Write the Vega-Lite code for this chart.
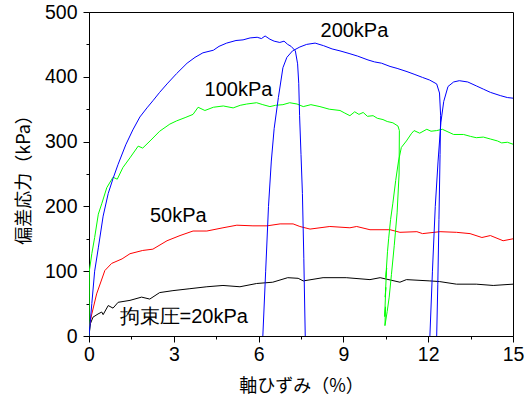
{
  "$schema": "https://vega.github.io/schema/vega-lite/v6.json",
  "width": 424,
  "height": 324,
  "autosize": {"type": "none"},
  "padding": {"left": 89, "top": 12, "right": 19, "bottom": 64},
  "background": "white",
  "config": {
    "view": {"stroke": "black", "strokeWidth": 1},
    "axis": {"grid": false, "domainColor": "black", "tickColor": "black", "labelColor": "black", "titleColor": "black", "labelFont": "Liberation Sans", "labelFontSize": 19.5, "titleFont": "Noto Sans CJK JP", "titleFontSize": 18, "titleFontWeight": "normal", "labelOverlap": false, "labelFlush": false}
  },
  "datasets": {
    "curves": [
      {"s":"20kPa","g":"a","x":0,"y":0},{"s":"20kPa","g":"a","x":0.05,"y":19},{"s":"20kPa","g":"a","x":0.14,"y":29},{"s":"20kPa","g":"a","x":0.32,"y":34},{"s":"20kPa","g":"a","x":0.45,"y":37},{"s":"20kPa","g":"a","x":0.5,"y":33},{"s":"20kPa","g":"a","x":0.68,"y":47},{"s":"20kPa","g":"a","x":0.85,"y":43},{"s":"20kPa","g":"a","x":1.03,"y":52},{"s":"20kPa","g":"a","x":1.45,"y":55},{"s":"20kPa","g":"a","x":1.86,"y":60},{"s":"20kPa","g":"a","x":2.15,"y":57},{"s":"20kPa","g":"a","x":2.5,"y":67},{"s":"20kPa","g":"a","x":2.97,"y":70},{"s":"20kPa","g":"a","x":3.57,"y":73},{"s":"20kPa","g":"a","x":4.17,"y":76},{"s":"20kPa","g":"a","x":4.74,"y":78},{"s":"20kPa","g":"a","x":5.34,"y":76},{"s":"20kPa","g":"a","x":5.93,"y":81},{"s":"20kPa","g":"a","x":6.5,"y":83},{"s":"20kPa","g":"a","x":7.03,"y":90},{"s":"20kPa","g":"a","x":7.4,"y":89},{"s":"20kPa","g":"a","x":7.58,"y":85},{"s":"20kPa","g":"a","x":8.28,"y":90},{"s":"20kPa","g":"a","x":9.1,"y":90},{"s":"20kPa","g":"a","x":9.94,"y":87},{"s":"20kPa","g":"a","x":10.3,"y":90},{"s":"20kPa","g":"a","x":11.0,"y":83},{"s":"20kPa","g":"a","x":11.23,"y":87},{"s":"20kPa","g":"a","x":12.06,"y":85},{"s":"20kPa","g":"a","x":12.4,"y":84},{"s":"20kPa","g":"a","x":13.0,"y":80},{"s":"20kPa","g":"a","x":13.7,"y":80},{"s":"20kPa","g":"a","x":14.3,"y":78},{"s":"20kPa","g":"a","x":15.0,"y":80},

      {"s":"50kPa","g":"a","x":0,"y":13},{"s":"50kPa","g":"a","x":0.1,"y":34},{"s":"50kPa","g":"a","x":0.27,"y":65},{"s":"50kPa","g":"a","x":0.56,"y":101},{"s":"50kPa","g":"a","x":0.8,"y":112},{"s":"50kPa","g":"a","x":1.17,"y":119},{"s":"50kPa","g":"a","x":1.45,"y":127},{"s":"50kPa","g":"a","x":1.9,"y":132},{"s":"50kPa","g":"a","x":2.26,"y":134},{"s":"50kPa","g":"a","x":2.76,"y":147},{"s":"50kPa","g":"a","x":3.22,"y":155},{"s":"50kPa","g":"a","x":3.68,"y":162},{"s":"50kPa","g":"a","x":4.17,"y":162},{"s":"50kPa","g":"a","x":4.74,"y":167},{"s":"50kPa","g":"a","x":5.23,"y":171},{"s":"50kPa","g":"a","x":5.8,"y":170},{"s":"50kPa","g":"a","x":6.3,"y":170},{"s":"50kPa","g":"a","x":6.76,"y":173},{"s":"50kPa","g":"a","x":7.22,"y":173},{"s":"50kPa","g":"a","x":7.46,"y":169},{"s":"50kPa","g":"a","x":7.82,"y":165},{"s":"50kPa","g":"a","x":8.52,"y":169},{"s":"50kPa","g":"a","x":9.23,"y":167},{"s":"50kPa","g":"a","x":9.47,"y":169},{"s":"50kPa","g":"a","x":9.94,"y":164},{"s":"50kPa","g":"a","x":10.65,"y":164},{"s":"50kPa","g":"a","x":11.0,"y":160},{"s":"50kPa","g":"a","x":11.6,"y":161},{"s":"50kPa","g":"a","x":11.8,"y":158},{"s":"50kPa","g":"a","x":12.42,"y":161},{"s":"50kPa","g":"a","x":13.0,"y":160},{"s":"50kPa","g":"a","x":13.48,"y":158},{"s":"50kPa","g":"a","x":13.9,"y":152},{"s":"50kPa","g":"a","x":14.2,"y":155},{"s":"50kPa","g":"a","x":14.65,"y":147},{"s":"50kPa","g":"a","x":15.0,"y":150},

      {"s":"100kPa","g":"a","x":0,"y":0},{"s":"100kPa","g":"a","x":0.01,"y":100},{"s":"100kPa","g":"a","x":0.1,"y":127},{"s":"100kPa","g":"a","x":0.2,"y":152},{"s":"100kPa","g":"a","x":0.33,"y":188},{"s":"100kPa","g":"a","x":0.45,"y":204},{"s":"100kPa","g":"a","x":0.63,"y":229},{"s":"100kPa","g":"a","x":0.85,"y":245},{"s":"100kPa","g":"a","x":1.0,"y":242},{"s":"100kPa","g":"a","x":1.2,"y":260},{"s":"100kPa","g":"a","x":1.45,"y":275},{"s":"100kPa","g":"a","x":1.74,"y":293},{"s":"100kPa","g":"a","x":1.9,"y":290},{"s":"100kPa","g":"a","x":2.16,"y":301},{"s":"100kPa","g":"a","x":2.5,"y":316},{"s":"100kPa","g":"a","x":2.86,"y":327},{"s":"100kPa","g":"a","x":3.1,"y":332},{"s":"100kPa","g":"a","x":3.4,"y":337},{"s":"100kPa","g":"a","x":3.68,"y":342},{"s":"100kPa","g":"a","x":3.86,"y":353},{"s":"100kPa","g":"a","x":4.1,"y":348},{"s":"100kPa","g":"a","x":4.4,"y":353},{"s":"100kPa","g":"a","x":4.75,"y":355},{"s":"100kPa","g":"a","x":5.1,"y":352},{"s":"100kPa","g":"a","x":5.35,"y":356},{"s":"100kPa","g":"a","x":5.58,"y":358},{"s":"100kPa","g":"a","x":5.93,"y":360},{"s":"100kPa","g":"a","x":6.15,"y":357},{"s":"100kPa","g":"a","x":6.4,"y":354},{"s":"100kPa","g":"a","x":6.6,"y":356},{"s":"100kPa","g":"a","x":6.86,"y":357},{"s":"100kPa","g":"a","x":7.1,"y":360},{"s":"100kPa","g":"a","x":7.36,"y":358},{"s":"100kPa","g":"a","x":7.58,"y":354},{"s":"100kPa","g":"a","x":7.85,"y":357},{"s":"100kPa","g":"a","x":8.17,"y":354},{"s":"100kPa","g":"a","x":8.5,"y":350},{"s":"100kPa","g":"a","x":8.88,"y":348},{"s":"100kPa","g":"a","x":9.05,"y":344},{"s":"100kPa","g":"a","x":9.23,"y":340},{"s":"100kPa","g":"a","x":9.4,"y":346},{"s":"100kPa","g":"a","x":9.55,"y":342},{"s":"100kPa","g":"a","x":9.7,"y":345},{"s":"100kPa","g":"a","x":9.85,"y":339},{"s":"100kPa","g":"a","x":10.05,"y":340},{"s":"100kPa","g":"a","x":10.2,"y":336},{"s":"100kPa","g":"a","x":10.4,"y":334},{"s":"100kPa","g":"a","x":10.55,"y":331},{"s":"100kPa","g":"a","x":10.75,"y":329},{"s":"100kPa","g":"a","x":10.93,"y":324},{"s":"100kPa","g":"a","x":10.98,"y":317},{"s":"100kPa","g":"a","x":10.97,"y":250},{"s":"100kPa","g":"a","x":10.9,"y":190},{"s":"100kPa","g":"a","x":10.8,"y":140},{"s":"100kPa","g":"a","x":10.7,"y":95},{"s":"100kPa","g":"a","x":10.62,"y":60},{"s":"100kPa","g":"a","x":10.55,"y":38},{"s":"100kPa","g":"a","x":10.47,"y":16},{"s":"100kPa","g":"a","x":10.49,"y":45},{"s":"100kPa","g":"a","x":10.46,"y":30},{"s":"100kPa","g":"a","x":10.5,"y":75},{"s":"100kPa","g":"a","x":10.48,"y":60},{"s":"100kPa","g":"a","x":10.53,"y":105},{"s":"100kPa","g":"a","x":10.5,"y":90},{"s":"100kPa","g":"a","x":10.56,"y":130},{"s":"100kPa","g":"a","x":10.6,"y":150},{"s":"100kPa","g":"a","x":10.67,"y":180},{"s":"100kPa","g":"a","x":10.75,"y":205},{"s":"100kPa","g":"a","x":10.85,"y":240},{"s":"100kPa","g":"a","x":10.95,"y":270},{"s":"100kPa","g":"a","x":11.05,"y":291},{"s":"100kPa","g":"a","x":11.23,"y":301},{"s":"100kPa","g":"a","x":11.4,"y":312},{"s":"100kPa","g":"a","x":11.5,"y":317},{"s":"100kPa","g":"a","x":11.7,"y":313},{"s":"100kPa","g":"a","x":11.95,"y":319},{"s":"100kPa","g":"a","x":12.1,"y":316},{"s":"100kPa","g":"a","x":12.3,"y":317},{"s":"100kPa","g":"a","x":12.5,"y":319},{"s":"100kPa","g":"a","x":12.7,"y":315},{"s":"100kPa","g":"a","x":12.9,"y":311},{"s":"100kPa","g":"a","x":13.25,"y":311},{"s":"100kPa","g":"a","x":13.5,"y":308},{"s":"100kPa","g":"a","x":13.7,"y":306},{"s":"100kPa","g":"a","x":13.95,"y":307},{"s":"100kPa","g":"a","x":14.2,"y":304},{"s":"100kPa","g":"a","x":14.45,"y":301},{"s":"100kPa","g":"a","x":14.6,"y":298},{"s":"100kPa","g":"a","x":14.8,"y":299},{"s":"100kPa","g":"a","x":15.0,"y":296},

      {"s":"200kPa","g":"a","x":0,"y":0},{"s":"200kPa","g":"a","x":0.1,"y":50},{"s":"200kPa","g":"a","x":0.2,"y":100},{"s":"200kPa","g":"a","x":0.33,"y":136},{"s":"200kPa","g":"a","x":0.5,"y":185},{"s":"200kPa","g":"a","x":0.68,"y":220},{"s":"200kPa","g":"a","x":0.85,"y":243},{"s":"200kPa","g":"a","x":1.03,"y":265},{"s":"200kPa","g":"a","x":1.3,"y":295},{"s":"200kPa","g":"a","x":1.55,"y":318},{"s":"200kPa","g":"a","x":1.8,"y":338},{"s":"200kPa","g":"a","x":2.05,"y":352},{"s":"200kPa","g":"a","x":2.26,"y":363},{"s":"200kPa","g":"a","x":2.5,"y":376},{"s":"200kPa","g":"a","x":2.76,"y":389},{"s":"200kPa","g":"a","x":3.1,"y":405},{"s":"200kPa","g":"a","x":3.47,"y":421},{"s":"200kPa","g":"a","x":3.75,"y":430},{"s":"200kPa","g":"a","x":4.03,"y":437},{"s":"200kPa","g":"a","x":4.4,"y":441},{"s":"200kPa","g":"a","x":4.6,"y":447},{"s":"200kPa","g":"a","x":4.87,"y":452},{"s":"200kPa","g":"a","x":5.2,"y":456},{"s":"200kPa","g":"a","x":5.45,"y":457},{"s":"200kPa","g":"a","x":5.7,"y":460},{"s":"200kPa","g":"a","x":5.95,"y":461},{"s":"200kPa","g":"a","x":6.1,"y":459},{"s":"200kPa","g":"a","x":6.23,"y":463},{"s":"200kPa","g":"a","x":6.4,"y":458},{"s":"200kPa","g":"a","x":6.55,"y":455},{"s":"200kPa","g":"a","x":6.75,"y":453},{"s":"200kPa","g":"a","x":6.9,"y":455},{"s":"200kPa","g":"a","x":7.03,"y":450},{"s":"200kPa","g":"a","x":7.15,"y":447},{"s":"200kPa","g":"a","x":7.3,"y":440},{"s":"200kPa","g":"a","x":7.38,"y":420},{"s":"200kPa","g":"a","x":7.42,"y":390},{"s":"200kPa","g":"a","x":7.45,"y":340},{"s":"200kPa","g":"a","x":7.5,"y":280},{"s":"200kPa","g":"a","x":7.55,"y":220},{"s":"200kPa","g":"a","x":7.6,"y":120},{"s":"200kPa","g":"a","x":7.65,"y":0},
      {"s":"200kPa","g":"b","x":6.15,"y":0},{"s":"200kPa","g":"b","x":6.25,"y":100},{"s":"200kPa","g":"b","x":6.35,"y":200},{"s":"200kPa","g":"b","x":6.45,"y":270},{"s":"200kPa","g":"b","x":6.55,"y":320},{"s":"200kPa","g":"b","x":6.7,"y":368},{"s":"200kPa","g":"b","x":6.86,"y":414},{"s":"200kPa","g":"b","x":7.0,"y":430},{"s":"200kPa","g":"b","x":7.2,"y":440},{"s":"200kPa","g":"b","x":7.46,"y":446},{"s":"200kPa","g":"b","x":7.7,"y":450},{"s":"200kPa","g":"b","x":8.0,"y":452},{"s":"200kPa","g":"b","x":8.3,"y":448},{"s":"200kPa","g":"b","x":8.6,"y":443},{"s":"200kPa","g":"b","x":8.88,"y":440},{"s":"200kPa","g":"b","x":9.2,"y":436},{"s":"200kPa","g":"b","x":9.5,"y":432},{"s":"200kPa","g":"b","x":9.87,"y":426},{"s":"200kPa","g":"b","x":10.1,"y":423},{"s":"200kPa","g":"b","x":10.35,"y":421},{"s":"200kPa","g":"b","x":10.65,"y":416},{"s":"200kPa","g":"b","x":10.9,"y":413},{"s":"200kPa","g":"b","x":11.25,"y":408},{"s":"200kPa","g":"b","x":11.5,"y":404},{"s":"200kPa","g":"b","x":11.8,"y":399},{"s":"200kPa","g":"b","x":12.05,"y":395},{"s":"200kPa","g":"b","x":12.3,"y":389},{"s":"200kPa","g":"b","x":12.4,"y":375},{"s":"200kPa","g":"b","x":12.44,"y":340},{"s":"200kPa","g":"b","x":12.42,"y":280},{"s":"200kPa","g":"b","x":12.38,"y":180},{"s":"200kPa","g":"b","x":12.34,"y":80},{"s":"200kPa","g":"b","x":12.3,"y":0},
      {"s":"200kPa","g":"c","x":12.06,"y":0},{"s":"200kPa","g":"c","x":12.15,"y":100},{"s":"200kPa","g":"c","x":12.25,"y":200},{"s":"200kPa","g":"c","x":12.35,"y":270},{"s":"200kPa","g":"c","x":12.45,"y":330},{"s":"200kPa","g":"c","x":12.55,"y":362},{"s":"200kPa","g":"c","x":12.7,"y":385},{"s":"200kPa","g":"c","x":12.9,"y":392},{"s":"200kPa","g":"c","x":13.1,"y":394},{"s":"200kPa","g":"c","x":13.4,"y":392},{"s":"200kPa","g":"c","x":13.7,"y":386},{"s":"200kPa","g":"c","x":13.95,"y":381},{"s":"200kPa","g":"c","x":14.2,"y":376},{"s":"200kPa","g":"c","x":14.55,"y":371},{"s":"200kPa","g":"c","x":14.8,"y":368},{"s":"200kPa","g":"c","x":15.0,"y":367}
    ],
    "labels": [
      {"t":"200kPa","x":9.39,"y":470},
      {"t":"100kPa","x":5.29,"y":379},
      {"t":"50kPa","x":3.16,"y":185},
      {"t":"拘束圧=20kPa","x":3.35,"y":30}
    ]
  },
  "encoding": {
    "x": {"field": "x", "type": "quantitative", "scale": {"domain": [0, 15], "nice": false, "zero": false},
      "axis": {"title": "軸ひずみ（%）", "values": [0,1.5,3,4.5,6,7.5,9,10.5,12,13.5,15],
        "labelExpr": "datum.value % 3 === 0 ? datum.label : ''",
        "tickSize": {"condition": {"test": "datum.value % 3 !== 0", "value": 3}, "value": 6},
        "labelPadding": 3, "titleX": 212, "titleY": 50, "titleBaseline": "middle"}},
    "y": {"field": "y", "type": "quantitative", "scale": {"domain": [0, 500], "nice": false},
      "axis": {"title": "偏差応力（kPa）", "values": [0,50,100,150,200,250,300,350,400,450,500],
        "labelExpr": "datum.value % 100 === 0 ? datum.label : ''",
        "tickSize": {"condition": {"test": "datum.value % 100 !== 0", "value": 3}, "value": 6},
        "labelPadding": 6, "titleX": -65, "titleY": 163, "titleAngle": 270, "titleBaseline": "middle", "titleAlign": "center"}}
  },
  "layer": [
    {
      "data": {"name": "curves"},
      "mark": {"type": "line", "strokeWidth": 1, "clip": true},
      "encoding": {
        "color": {"field": "s", "type": "nominal", "legend": null,
          "scale": {"domain": ["20kPa","50kPa","100kPa","200kPa"], "range": ["#000000","#ff0000","#00ff00","#0000ff"]}},
        "detail": {"field": "g", "type": "nominal"},
        "order": {"value": null}
      }
    },
    {
      "data": {"name": "labels"},
      "mark": {"type": "text", "font": "Liberation Sans", "fontSize": 20, "color": "black", "align": "center", "baseline": "middle"},
      "encoding": {"text": {"field": "t"}}
    }
  ]
}
